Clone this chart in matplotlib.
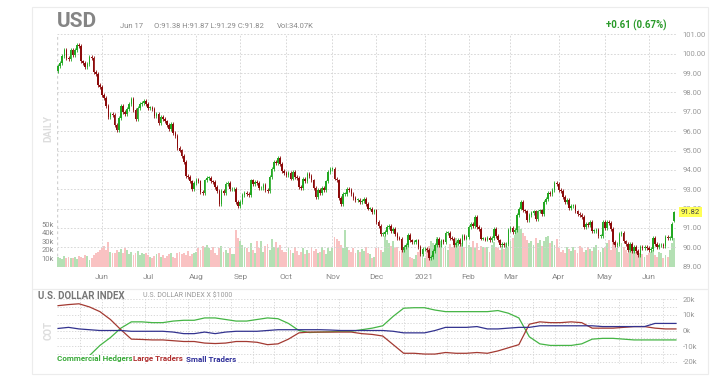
import numpy as np
import pandas as pd
import matplotlib
matplotlib.use("Agg")
import matplotlib.pyplot as plt
import matplotlib.transforms as mtransforms
from matplotlib.patches import Rectangle

plt.rcParams['font.family'] = ['Roboto', 'DejaVu Sans']

# trading days shown on the chart
dates = pd.bdate_range('2020-05-01', '2021-06-17')

# daily closes
close = [
    # May 2020
    99.35, 99.5, 99.9, 100.2, 99.8, 99.75, 100.2, 99.95, 100.2, 100.45, 100.4,
    99.6, 99.5, 99.3, 99.45, 99.85, 99.8, 99.05, 98.95, 98.4, 98.3,
    # Jun
    97.85, 97.7, 97.3, 96.75, 96.9, 96.85, 96.3, 96.05, 96.7, 97.3, 97.0,
    96.9, 97.15, 97.4, 97.65, 97.1, 96.65, 97.2, 97.4, 97.45, 97.55, 97.4,
    # Jul
    97.2, 97.2, 97.15, 96.8, 96.9, 96.4, 96.75, 96.65, 96.5, 96.3, 96.1, 96.35,
    95.9, 95.75, 95.15, 95.0, 94.7, 94.4, 93.7, 93.65, 93.4, 93.0, 93.3,
    # Aug
    93.5, 93.4, 92.85, 92.8, 93.45, 93.6, 93.6, 93.4, 93.35, 93.1, 92.9,
    92.25, 92.9, 92.8, 93.25, 93.3, 93.0, 93.0, 93.0, 92.35, 92.15,
    # Sep
    92.35, 92.7, 92.8, 92.75, 92.7, 93.45, 93.25, 93.35, 93.3, 93.05, 93.05,
    93.2, 92.95, 92.9, 93.65, 94.05, 94.4, 94.35, 94.6, 94.3, 93.95, 93.85,
    # Oct
    93.75, 93.85, 93.55, 93.9, 93.65, 93.6, 93.1, 93.05, 93.55, 93.4, 93.8,
    93.7, 93.45, 93.05, 92.6, 92.95, 92.8, 93.05, 92.95, 93.4, 93.9, 94.05,
    # Nov
    94.05, 93.55, 93.45, 92.55, 92.25, 92.75, 92.75, 93.0, 92.95, 92.75, 92.55,
    92.45, 92.45, 92.35, 92.4, 92.5, 92.25, 92.0, 92.0, 91.8, 91.9,
    # Dec
    91.3, 91.1, 90.7, 90.7, 90.8, 91.05, 91.1, 90.85, 90.95, 90.7, 90.5, 90.45,
    89.85, 90.0, 90.1, 90.65, 90.35, 90.25, 90.25, 90.35, 90.0, 89.65, 89.9,
    # Jan 2021
    89.9, 89.85, 89.45, 89.5, 89.8, 90.1, 90.45, 90.1, 90.35, 90.25, 90.75,
    90.75, 90.5, 90.45, 90.1, 90.2, 90.4, 90.15, 90.6, 90.45, 90.55,
    # Feb
    91.05, 91.2, 91.1, 91.55, 91.05, 90.95, 90.45, 90.45, 90.4, 90.5,
    90.35, 90.5, 90.95, 90.6, 90.35, 90.1, 90.15, 90.1, 90.15, 90.9,
    # Mar
    91.0, 90.8, 90.9, 91.65, 92.0, 92.35, 91.9, 91.85, 91.4, 91.65, 91.75, 91.85,
    91.45, 91.85, 91.9, 91.7, 92.35, 92.5, 92.8, 92.75, 92.95, 93.3, 93.25,
    # Apr
    92.95, 92.9, 92.6, 92.35, 92.45, 92.05, 92.15, 92.15, 91.85, 91.7, 91.65,
    91.55, 91.05, 91.2, 91.15, 91.3, 90.85, 90.85, 90.9, 90.6, 90.6, 91.3,
    # May
    91.0, 91.3, 91.25, 90.95, 90.25, 90.1, 90.15, 90.7, 90.75, 90.3, 90.15,
    89.85, 90.15, 89.8, 90.0, 89.8, 89.6, 90.0, 89.95, 90.0, 89.95,
    # Jun
    89.85, 89.9, 90.5, 90.15, 90.0, 90.1, 90.1, 90.05, 90.55, 90.5, 90.5,
    91.21, 91.82,
]
first_open = 99.1
last_ohlc = (91.38, 91.87, 91.29, 91.82)

# daily volume in thousands
volume = [
    12, 10, 9, 13, 11, 12, 10, 11, 12, 9, 13, 12, 11, 14, 13, 8, 10, 14, 16, 18, 20,
    22, 25, 20, 29, 18, 16, 17, 20, 18, 21, 16, 22, 20, 15, 18, 14, 16, 19, 14, 17, 15, 16,
    14, 12, 10, 13, 15, 16, 12, 14, 10, 13, 15, 17, 12, 11, 16, 18, 15, 17, 14, 19, 13, 15, 16,
    18, 22, 20, 25, 24, 26, 22, 20, 23, 17, 14, 22, 25, 18, 20, 16, 22, 15, 15, 44, 34,
    30, 26, 24, 22, 18, 28, 20, 17, 30, 22, 31, 18, 25, 27, 20, 33, 24, 29, 22, 26, 20, 18,
    18, 22, 20, 16, 24, 19, 14, 18, 22, 15, 20, 17, 23, 19, 21, 16, 18, 24, 20, 15, 22, 19,
    22, 35, 33, 30, 26, 22, 44, 23, 20, 18, 22, 16, 20, 18, 21, 19, 23, 17, 15, 10, 12,
    22, 24, 20, 18, 36, 32, 28, 25, 30, 22, 24, 19, 27, 22, 26, 28, 12, 10, 9, 14, 18, 20, 16,
    10, 22, 25, 30, 28, 26, 35, 28, 30, 22, 25, 20, 27, 24, 30, 34, 29, 25, 28, 24, 30,
    26, 24, 30, 22, 28, 20, 25, 23, 22, 24, 18, 26, 29, 24, 22, 20, 25, 21, 28, 24,
    30, 34, 38, 44, 48, 45, 40, 36, 32, 28, 30, 26, 34, 28, 32, 25, 30, 35, 37, 28, 30, 26, 33,
    22, 18, 20, 17, 24, 21, 19, 23, 20, 17, 25, 22, 18, 20, 24, 21, 19, 23, 26, 20, 18, 22,
    24, 28, 32, 20, 30, 26, 22, 18, 28, 24, 20, 16, 25, 19, 22, 18, 20, 17, 15, 12, 14,
    16, 18, 20, 14, 12, 18, 16, 10, 14, 12, 20, 28, 34,
]

month_labels = ['Jun', 'Jul', 'Aug', 'Sep', 'Oct', 'Nov', 'Dec', '2021',
                'Feb', 'Mar', 'Apr', 'May', 'Jun']
price_ticks = list(range(89, 102))
vol_ticks = [10, 20, 30, 40, 50]

# COT net positions (thousands of contracts), weekly
cot_large = [15.8, 16.5, 17, 15, 12, 7, 0.5, -5.5, -5.7, -6,
             -6, -6.5, -7, -7, -8, -8.3, -8, -7, -7, -7.5,
             -9, -8.5, -5.5, -1.5, -1, -1, -1, -1, -1, -2,
             -2.5, -3.5, -9, -14.5, -14.5, -15, -15, -14, -14.5, -14.5,
             -14, -14.5, -13, -11, -9, 4, 5.5, 5, 5, 5.5,
             5, 1.5, 1.5, 1.5, 2, 2.5, 2.5, 1.5, 1, 1]
cot_comm = [-18, -18.5, -19, -16, -9.5, -4.5, 1.5, 5.5, 5.5, 5,
            5, 6, 6.5, 6.5, 8, 8, 7, 6, 6, 7,
            8, 7.5, 4.5, 0, -1.3, -1, -0.8, -0.5, -0.5, 0.5,
            1.5, 3, 9, 14.2, 14.5, 14.5, 13, 12, 12, 12,
            12, 12, 12.7, 11, 8, -4, -8.5, -9.5, -9.5, -9.5,
            -8.5, -5.5, -5, -5, -5.5, -6, -6, -6, -6, -6]
cot_small = [1.3, 2, 1, 0.5, 0, 0, 0, -0.5, -0.5, -0.5,
             -0.5, -1, -2, -2, -1, -2, -1, -0.5, -0.5, -0.5,
             0, 0.5, 0.5, 0.5, 0.5, 0.5, 0.3, 0, 0, 0,
             0, 0, -0.5, -1.5, -1.5, -1.5, 0, 2, 2, 2,
             2.5, 1, 1, 1.5, 2, 2, 3, 3, 3, 3,
             3, 3, 2.5, 2.5, 2.5, 2.5, 2.5, 4.5, 4.5, 4.5]

UP = '#22a822'
DOWN = '#8c0b0b'
VOL_UP = '#b4e0b4'
VOL_DOWN = '#f9c2c2'
GRID = '#d2d2d2'
WICK = 0.1

n = len(dates)
x = np.arange(n)
c = np.array(close)
o = np.concatenate([[first_open], c[:-1]])
o[-1] = last_ohlc[0]
hi = np.maximum(o, c) + WICK
lo = np.minimum(o, c) - WICK
hi[-1], lo[-1] = last_ohlc[1], last_ohlc[2]
up = c >= o
colors = np.where(up, UP, DOWN)

month_pos = [i for i in range(1, n) if dates[i].month != dates[i - 1].month]

fig = plt.figure(figsize=(7.2, 3.84), dpi=100)

def fx(px):
    return px / 720

def fy(py):
    return 1 - py / 384

# faint panel frames
for top, bot in [(7, 289), (289, 374)]:
    fig.add_artist(Rectangle((fx(32), fy(bot)), fx(708) - fx(32), fy(top) - fy(bot),
                             transform=fig.transFigure, fill=False,
                             ec='#ececec', lw=0.8))

rect = [fx(57), fy(267), fx(677) - fx(57), fy(34) - fy(267)]
axv = fig.add_axes(rect)
ax = fig.add_axes(rect, sharex=axv)
ax.set_zorder(axv.get_zorder() + 1)
ax.patch.set_visible(False)

# volume
axv.bar(x, volume, width=0.9, color=np.where(up, VOL_UP, VOL_DOWN), zorder=2)
axv.set_ylim(0, 274)
axv.set_yticks(vol_ticks)
axv.set_yticklabels([f'{v}k' for v in vol_ticks])
axv.tick_params(axis='y', length=0, labelsize=5.5, labelcolor='#888888', pad=2)
axv.tick_params(axis='x', length=0, labelbottom=False)

# grid
for p in price_ticks:
    axv.axhline(0, alpha=0)
for p in price_ticks:
    ax.axhline(p, color=GRID, lw=0.6, ls=(0, (2, 2)), zorder=0)
for m in month_pos:
    axv.axvline(m, color=GRID, lw=0.6, ls=(0, (2, 2)), zorder=0)
axv.axvline(-0.5, color=GRID, lw=1.0, ls=(0, (2, 2)), zorder=0)

# candles
ax.vlines(x, lo, hi, colors=colors, lw=0.6, zorder=3)
body = np.maximum(np.abs(c - o), 0.03)
ax.bar(x, body, bottom=np.minimum(o, c), width=0.75, color=colors, zorder=4)

ax.set_xlim(-0.5, n + 0.5)
ax.set_ylim(88.98, 101.02)
ax.set_yticks(price_ticks)
ax.set_yticklabels([f'{p:.2f}' for p in price_ticks])
ax.yaxis.tick_right()
ax.tick_params(axis='y', length=0, labelsize=5.5, labelcolor='#999999', pad=4)
ax.set_xticks(month_pos)
ax.set_xticklabels(month_labels)
ax.tick_params(axis='x', length=0, labelsize=6, labelcolor='#888888', pad=5)
for a in (ax, axv):
    for s in a.spines.values():
        s.set_visible(False)

tr = mtransforms.blended_transform_factory(ax.transAxes, ax.transData)
ax.text(1.006, last_ohlc[3], f'{last_ohlc[3]:.2f}', transform=tr, fontsize=5.5,
        color='#444444', va='center', ha='left', zorder=10,
        bbox=dict(fc='#ffff55', ec='none', pad=1.2))

# header
fig.text(fx(57), fy(27), 'USD', fontsize=15, weight='bold', color='#858585',
         va='baseline')
fig.text(fx(120), fy(26), 'Jun 17', fontsize=5.5, color='#888888', va='center')
fig.text(fx(154), fy(26), 'O:91.38 H:91.87 L:91.29 C:91.82', fontsize=5.5,
         color='#888888', va='center')
fig.text(fx(277), fy(26), 'Vol:34.07K', fontsize=5.5, color='#888888', va='center')
fig.text(fx(667), fy(25), '+0.61 (0.67%)', fontsize=7, weight='bold',
         color='#2a9a2a', va='center', ha='right')
fig.text(fx(48), fy(128), 'DAILY', fontsize=7, weight='bold', color='#dddddd',
         rotation=90, va='center', ha='center')

# COT panel
axc = fig.add_axes([fx(57), fy(363.5), fx(677) - fx(57), fy(297.5) - fy(363.5)])
cot_x = np.arange(len(cot_large)) * 5
for v in range(-20, 21, 5):
    axc.axhline(v, color=GRID, lw=0.6, ls=(0, (1.5, 2)), zorder=0)
for g in np.arange(10.5, n + 1, 10.3):
    axc.axvline(g, color=GRID, lw=0.6, ls=(0, (1.5, 2)), zorder=0)
axc.plot(cot_x, cot_comm, color='#45b545', lw=0.9, zorder=2)
axc.plot(cot_x, cot_large, color='#a33a32', lw=0.9, zorder=3)
axc.plot(cot_x, cot_small, color='#33338f', lw=0.9, zorder=4)
axc.set_xlim(-0.5, n + 0.5)
axc.set_ylim(-21, 21)
axc.set_xticks([])
axc.set_yticks([20, 10, 0, -10, -20])
axc.set_yticklabels(['20k', '10k', '0k', '-10k', '-20k'])
axc.yaxis.tick_right()
axc.tick_params(axis='y', length=0, labelsize=5.5, labelcolor='#999999', pad=4)
for s in axc.spines.values():
    s.set_visible(False)

fig.text(fx(38), fy(296), 'U.S. DOLLAR INDEX', fontsize=7, weight='bold',
         color='#777777', va='center')
fig.text(fx(143), fy(296), 'U.S. DOLLAR INDEX X $1000', fontsize=5,
         color='#999999', va='center')
fig.text(fx(49), fy(330), 'COT', fontsize=7, weight='bold', color='#dddddd',
         rotation=90, va='center', ha='center')
bb = dict(fc='white', ec='none', pad=0.6)
fig.text(fx(57), fy(359), 'Commercial Hedgers', fontsize=5.8, weight='bold',
         color='#3aaa3a', va='center', bbox=bb, zorder=10)
fig.text(fx(133), fy(359), 'Large Traders', fontsize=5.8, weight='bold',
         color='#b03030', va='center', bbox=bb, zorder=10)
fig.text(fx(186), fy(359), 'Small Traders', fontsize=5.8, weight='bold',
         color='#30309a', va='center', bbox=bb, zorder=10)

fig.savefig('out.png', dpi=100)
